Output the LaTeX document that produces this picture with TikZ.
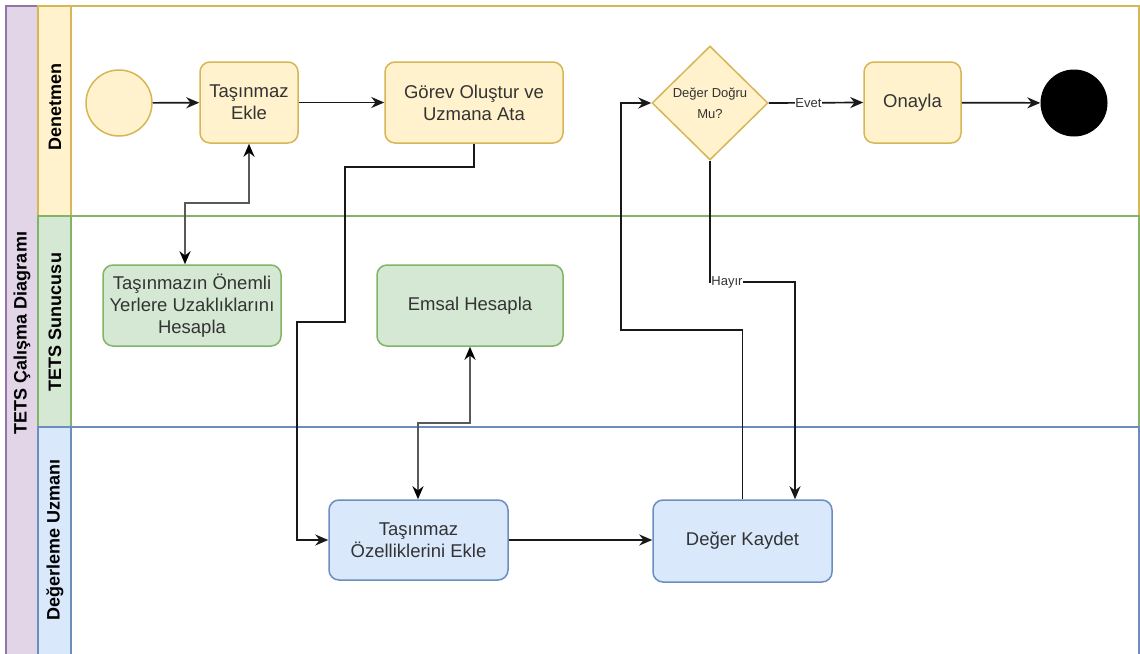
\documentclass[tikz,border=0pt]{standalone}
\usepackage{fontspec}
\setmainfont{Liberation Sans}
\usetikzlibrary{arrows.meta,shapes.geometric}

\definecolor{poolfill}{HTML}{E1D5E7}
\definecolor{poolline}{HTML}{9673A6}
\definecolor{yfill}{HTML}{FFF2CC}
\definecolor{yline}{HTML}{D6B656}
\definecolor{gfill}{HTML}{D5E8D4}
\definecolor{gline}{HTML}{82B366}
\definecolor{bfill}{HTML}{DAE8FC}
\definecolor{bline}{HTML}{6C8EBF}
\definecolor{txt}{HTML}{333333}

\begin{document}
\begin{tikzpicture}[x=1pt,y=-1pt,
  lanebox/.style={line width=1.6pt},
  lanetitle/.style={rotate=90, font=\bfseries\fontsize{18}{21}\selectfont, text=black, inner sep=0pt},
  task/.style={draw, line width=1.5pt, rounded corners=10pt, align=center, text=txt,
    inner sep=0pt, font=\fontsize{18.5}{22}\selectfont},
  yellowtask/.style={task, draw=yline, fill=yfill},
  greentask/.style={task, draw=gline, fill=gfill},
  bluetask/.style={task, draw=bline, fill=bfill},
  event/.style={circle, draw=yline, line width=1.5pt, inner sep=0pt, minimum size=66pt},
  gate/.style={diamond, draw=yline, fill=yfill, line width=1.5pt, inner sep=0pt,
    minimum width=116pt, minimum height=114pt, align=center, text=txt,
    font=\fontsize{13}{21}\selectfont},
  flow/.style={draw=black!90, line width=1.7pt, -{Stealth[length=13pt,width=11pt]}},
  link/.style={draw=black!65, line width=2.6pt,
    {Stealth[length=13pt,width=11pt,black]}-{Stealth[length=13pt,width=11pt,black]}},
  elabel/.style={fill=white, inner sep=0.5pt, text=txt, font=\fontsize{13}{15}\selectfont}
]
\useasboundingbox (0,0) rectangle (1140,653);

% pool and swimlanes
\draw[lanebox, draw=poolline, fill=poolfill] (6,6) rectangle (1139,662);
\draw[lanebox, draw=yline, fill=white] (38,6) rectangle (1139,216);
\draw[lanebox, draw=yline, fill=yfill] (38,6) rectangle (71,216);
\draw[lanebox, draw=gline, fill=white] (38,216) rectangle (1139,427);
\draw[lanebox, draw=gline, fill=gfill] (38,216) rectangle (71,427);
\draw[lanebox, draw=bline, fill=white] (38,427) rectangle (1139,662);
\draw[lanebox, draw=bline, fill=bfill] (38,427) rectangle (71,662);

\node[lanetitle] (pooltitle) at (22,333) {TETS Çalışma Diagramı};
\node[lanetitle] (lane1) at (55,107) {Denetmen};
\node[lanetitle] (lane2) at (55,322) {TETS Sunucusu};
\node[lanetitle] (lane3) at (55,540) {Değerleme Uzmanı};

% Denetmen lane
\node[event, fill=yfill] (start) at (119,103) {};
\node[yellowtask, minimum width=98pt, minimum height=81pt] (ekle) at (249,102.5) {Taşınmaz\\Ekle};
\node[yellowtask, minimum width=178pt, minimum height=81pt] (gorev) at (474,102.5) {Görev Oluştur ve\\Uzmana Ata};
\node[gate] (karar) at (710,103) {Değer Doğru\\Mu?};
\node[yellowtask, minimum width=97pt, minimum height=81pt] (onay) at (912.5,102.5) {Onayla};
\node[circle, fill=black, inner sep=0pt, minimum size=67pt] (end) at (1074,103) {};

% TETS Sunucusu lane
\node[greentask, minimum width=178pt, minimum height=81pt] (uzak) at (192,305.5) {Taşınmazın Önemli\\Yerlere Uzaklıklarını\\Hesapla};
\node[greentask, minimum width=186pt, minimum height=81pt] (emsal) at (470,305.5) {Emsal Hesapla};

% Değerleme Uzmanı lane
\node[bluetask, minimum width=179pt, minimum height=80pt] (ozel) at (418.5,540) {Taşınmaz\\Özelliklerini Ekle};
\node[bluetask, minimum width=179pt, minimum height=82pt] (kaydet) at (742.5,541) {Değer Kaydet};

% sequence flows
\draw[flow] (start) -- (ekle);
\draw[flow] (ekle) -- (gorev);
\draw[flow] (gorev.south) |- (345,167) |- (297,322) |- (ozel.west);
\draw[flow] (ozel.east) -- (ozel.east -| kaydet.west);
\draw[flow] (kaydet.north) |- (621,330) |- (karar.west);
\draw[flow] (karar.east) -- node[elabel, pos=0.42] {Evet} (onay.west);
\draw[flow] (onay) -- (end);
\draw[flow] (karar.south) -- (710,282) -- node[elabel, pos=0.2] {Hayır} (795,282) -- (795,282 |- kaydet.north);

% data exchanges
\draw[link] (ekle.south) |- (185,203) -- (185,203 |- uzak.north);
\draw[link] (emsal.south) |- (418,423) -- (418,423 |- ozel.north);
\end{tikzpicture}
\end{document}
